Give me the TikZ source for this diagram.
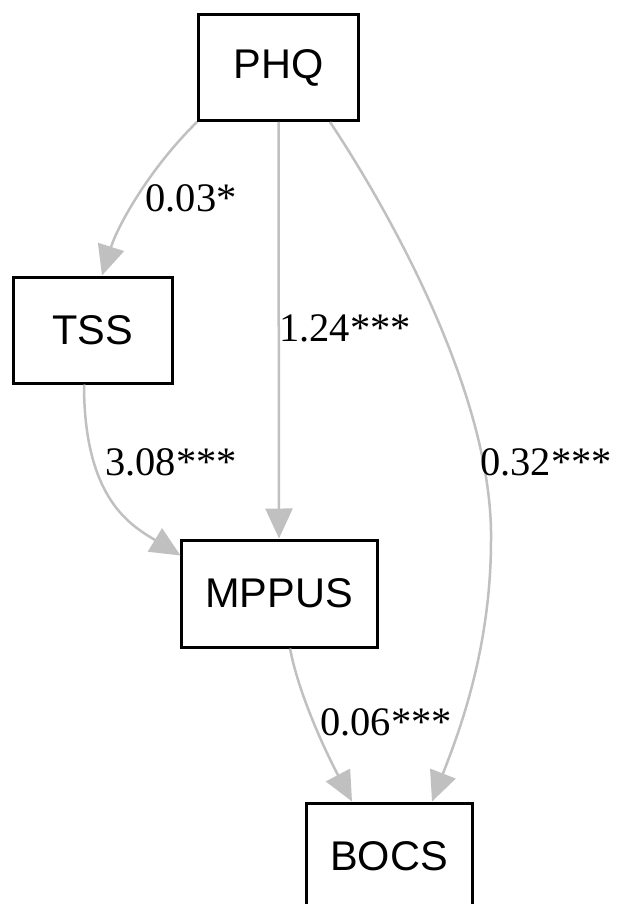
\documentclass[tikz,border=0pt]{standalone}
\usepackage{fontspec}
\setmainfont{Liberation Serif}
\newfontfamily\boxfont{Liberation Sans}
\usetikzlibrary{arrows.meta,calc}
\definecolor{edgegray}{RGB}{192,192,192}
\tikzset{
  varbox/.style={draw=black, line width=3pt, fill=white, inner sep=0pt,
    font=\boxfont\fontsize{41.5}{48}\selectfont},
  pathedge/.style={draw=edgegray, line width=2.5pt,
    -{Triangle[length=30pt,width=27pt,fill=edgegray,color=edgegray]}},
  coef/.style={font=\fontsize{40.5}{48}\selectfont, inner sep=0pt}
}
\begin{document}
\begin{tikzpicture}[x=1pt,y=-1pt]
\useasboundingbox (0,0) rectangle (621,904);
\node[varbox, minimum width=160pt, minimum height=106pt] (PHQ) at (278.5,67.5) {PHQ};
\node[varbox, minimum width=159pt, minimum height=106pt] (TSS) at (92.5,330) {TSS};
\node[varbox, minimum width=196pt, minimum height=107pt] (MPPUS) at (279,593.5) {MPPUS};
\node[varbox, minimum width=166pt, minimum height=107pt] (BOCS) at (389,856.5) {BOCS};

\draw[pathedge] (PHQ.south west) .. controls (150,168) and (118,225) .. ($(TSS.north)+(9.5,0)$);
\draw[pathedge] (PHQ.south) -- (MPPUS.north);
\draw[pathedge] ($(PHQ.south)+(51.5,0)$) .. controls (395,220) and (493,400) .. (491,540)
   .. controls (491,650) and (458,735) .. ($(BOCS.north)+(43,0)$);
\draw[pathedge] ($(TSS.south)+(-8.5,0)$) .. controls (84,500) and (132,526) .. ($(MPPUS.north west)+(1,17)$);
\draw[pathedge] ($(MPPUS.south)+(11,0)$) .. controls (300,700) and (330,760) .. ($(BOCS.north)+(-37,0)$);

\node[coef] (l1) at (191,198) {0.03*};
\node[coef] (l2) at (345,328) {1.24***};
\node[coef] (l3) at (546,462) {0.32***};
\node[coef] (l4) at (171,462) {3.08***};
\node[coef] (l5) at (386,722) {0.06***};
\end{tikzpicture}
\end{document}
